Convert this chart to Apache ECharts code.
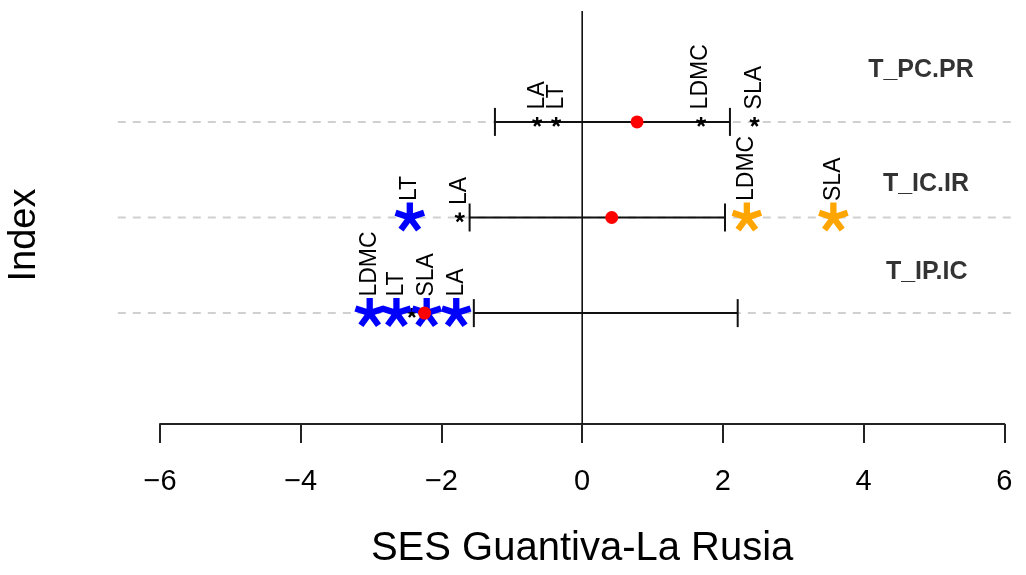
<!DOCTYPE html>
<html>
<head>
<meta charset="utf-8">
<script src="https://cdn.jsdelivr.net/npm/echarts@6/dist/echarts.min.js"></script>
<style>
html,body{margin:0;padding:0;background:#fff;}
#main{width:1026px;height:575px;}
</style>
</head>
<body>
<div id="main"></div>
<script>
// ---- data ----
const rowNames = ['T_IP.IC', 'T_IC.IR', 'T_PC.PR'];
const rowY = [1, 2, 3];
const ciLow = [-1.54, -1.60, -1.24];
const ciHigh = [2.21, 2.03, 2.10];
const meanSES = [-2.24, 0.42, 0.78];
const traits = ['LA', 'LT', 'LDMC', 'SLA'];
const sesIPIC = [-1.79, -2.64, -3.02, -2.21];
const sesICIR = [-1.74, -2.45, 2.34, 3.57];
const sesPCPR = [-0.64, -0.37, 1.69, 2.45];
// 'ns' = not significant, 'low' = below, 'high' = above
const sigIPIC = ['low', 'low', 'low', 'low'];
const sigICIR = ['ns', 'low', 'high', 'high'];
const sigPCPR = ['ns', 'ns', 'ns', 'ns'];
const extraStarsIPIC = [-2.42];
const xTicks = [-6, -4, -2, 0, 2, 4, 6];

// ---- build ----
function asteriskPath(L, w) {
  let s = '';
  for (let k = 0; k < 5; k++) {
    const a = (-90 + 72 * k) * Math.PI / 180;
    const dx = Math.cos(a), dy = Math.sin(a), nx = -dy, ny = dx, b = -1;
    const p = [
      [b * dx - nx * w / 2, b * dy - ny * w / 2],
      [L * dx - nx * w / 2, L * dy - ny * w / 2],
      [L * dx + nx * w / 2, L * dy + ny * w / 2],
      [b * dx + nx * w / 2, b * dy + ny * w / 2]
    ];
    s += 'M' + p.map(q => q[0].toFixed(3) + ' ' + q[1].toFixed(3)).join(' L') + ' Z ';
  }
  s += 'M-11 -11 L-11 -11 M11 11 L11 11';
  return 'path://' + s;
}
const STAR = asteriskPath(10, 4.2);
const STAR_SMALL = asteriskPath(10, 4.8);

const rowsSes = [sesIPIC, sesICIR, sesPCPR];
const rowsSig = [sigIPIC, sigICIR, sigPCPR];
const ns = [], low = [], high = [];
rowsSes.forEach((arr, r) => {
  arr.forEach((v, i) => {
    const item = { name: traits[i], value: [v, rowY[r]] };
    const s = rowsSig[r][i];
    if (s === 'low') low.push(item); else if (s === 'high') high.push(item); else ns.push(item);
  });
});
extraStarsIPIC.forEach(v => ns.push({ name: '', value: [v, rowY[0]] }));

const FONT = '"Liberation Sans", Arial, sans-serif';
const traitLabel = (dist) => ({
  show: true, formatter: '{b}', position: 'top', distance: dist,
  rotate: 90, align: 'left', verticalAlign: 'middle',
  fontFamily: FONT, fontSize: 23, color: '#000'
});

const option = {
  animation: false,
  backgroundColor: '#fff',
  grid: [
    { left: 117.8, right: 14.6, top: 11, bottom: 151, containLabel: false, outerBoundsMode: 'none' },
    { left: 160, right: 21.7, top: 11, bottom: 151, containLabel: false, outerBoundsMode: 'none' }
  ],
  graphic: [
    {
      type: 'text', x: 25, y: 235, rotation: Math.PI / 2, silent: true,
      style: { text: 'Index', font: '38px ' + FONT, fill: '#000', align: 'center', verticalAlign: 'middle' }
    }
  ],
  xAxis: [
    { gridIndex: 0, type: 'value', min: -6.6, max: 6.1, show: false },
    {
      gridIndex: 1, type: 'value', min: xTicks[0], max: xTicks[xTicks.length - 1], interval: 2,
      axisLine: { show: true, onZero: false, lineStyle: { color: '#222', width: 2 } },
      axisTick: { show: true, length: 19, lineStyle: { color: '#222', width: 2 } },
      axisLabel: {
        margin: 43, fontFamily: FONT, fontSize: 29, color: '#000',
        formatter: v => (v < 0 ? '\u2212' + Math.abs(v) : String(v))
      },
      splitLine: { show: false },
      name: 'SES Guantiva-La Rusia', nameLocation: 'middle', nameGap: 105,
      nameTextStyle: { fontFamily: FONT, fontSize: 40, color: '#000' }
    }
  ],
  yAxis: [
    { gridIndex: 0, type: 'value', min: -0.16, max: 4.16, show: false },
    { gridIndex: 1, type: 'value', min: 0, max: 1, show: false }
  ],
  series: [
    {
      // dashed reference lines at each row
      type: 'custom', xAxisIndex: 0, yAxisIndex: 0, z: 1, silent: true,
      data: rowY.map(y => [0, y]),
      renderItem: function (params, api) {
        const cs = params.coordSys;
        const p = api.coord([0, api.value(1)]);
        return {
          type: 'line',
          shape: { x1: cs.x, y1: p[1], x2: cs.x + cs.width, y2: p[1] },
          style: { stroke: '#d0d0d0', lineWidth: 2, lineDash: [8, 7] }
        };
      }
    },
    {
      // vertical line at zero
      type: 'custom', xAxisIndex: 0, yAxisIndex: 0, z: 2, silent: true,
      data: [[0, 0]],
      renderItem: function (params, api) {
        const cs = params.coordSys;
        const p = api.coord([api.value(0), 0]);
        return {
          type: 'line',
          shape: { x1: p[0], y1: cs.y, x2: p[0], y2: cs.y + cs.height },
          style: { stroke: '#111', lineWidth: 1.6 }
        };
      }
    },
    {
      type: 'custom', xAxisIndex: 0, yAxisIndex: 0, z: 3, silent: true,
      data: rowY.map((y, i) => [ciLow[i], ciHigh[i], y]),
      renderItem: function (params, api) {
        const a = api.coord([api.value(0), api.value(2)]);
        const b = api.coord([api.value(1), api.value(2)]);
        const st = { stroke: '#111', lineWidth: 2 };
        return {
          type: 'group', children: [
            { type: 'line', shape: { x1: a[0], y1: a[1], x2: b[0], y2: b[1] }, style: st },
            { type: 'line', shape: { x1: a[0], y1: a[1] - 14, x2: a[0], y2: a[1] + 14 }, style: st },
            { type: 'line', shape: { x1: b[0], y1: b[1] - 14, x2: b[0], y2: b[1] + 14 }, style: st }
          ]
        };
      }
    },
    {
      type: 'scatter', xAxisIndex: 0, yAxisIndex: 0, z: 4, silent: true,
      symbol: STAR_SMALL, symbolSize: 11, itemStyle: { color: '#000', opacity: 1 },
      data: ns, label: traitLabel(7)
    },
    {
      type: 'scatter', xAxisIndex: 0, yAxisIndex: 0, z: 5, silent: true,
      symbol: STAR, symbolSize: 33, itemStyle: { color: '#0000ff', opacity: 1 },
      data: low, label: traitLabel(0)
    },
    {
      type: 'scatter', xAxisIndex: 0, yAxisIndex: 0, z: 5, silent: true,
      symbol: STAR, symbolSize: 33, itemStyle: { color: '#ffa500', opacity: 1 },
      data: high, label: traitLabel(0)
    },
    {
      type: 'scatter', xAxisIndex: 0, yAxisIndex: 0, z: 6, silent: true,
      symbol: 'circle', symbolSize: 13, itemStyle: { color: '#ff0000', opacity: 1 },
      data: rowY.map((y, i) => [meanSES[i], y])
    },
    {
      type: 'scatter', xAxisIndex: 0, yAxisIndex: 0, z: 7, silent: true,
      symbolSize: 0,
      data: [
        { name: rowNames[2], value: [4.815, 3.54] },
        { name: rowNames[1], value: [4.886, 2.35] },
        { name: rowNames[0], value: [4.896, 1.43] }
      ],
      label: {
        show: true, position: 'inside', formatter: '{b}',
        fontFamily: FONT, fontWeight: 'bold', fontSize: 25, color: '#000'
      }
    }
  ]
};

const chart = echarts.init(document.getElementById('main'), null, { renderer: 'canvas' });
chart.setOption(option);
</script>
</body>
</html>
